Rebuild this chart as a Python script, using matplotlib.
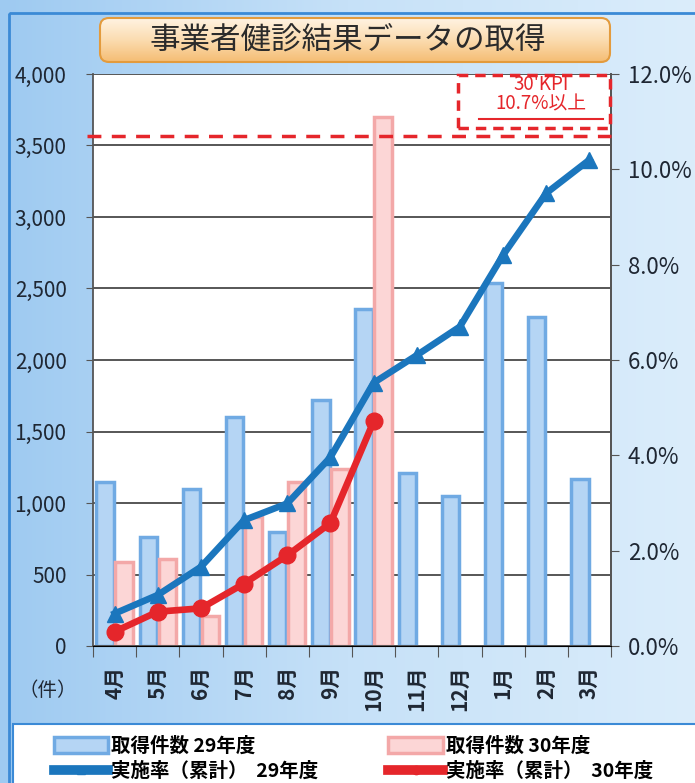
import numpy as np
import matplotlib.pyplot as plt
from matplotlib.patches import FancyBboxPatch, Rectangle, Patch
from matplotlib.lines import Line2D
from matplotlib.colors import LinearSegmentedColormap

plt.rcParams['font.family'] = ['Noto Sans CJK JP', 'DejaVu Sans']

months = ['4月', '5月', '6月', '7月', '8月', '9月', '10月', '11月', '12月', '1月', '2月', '3月']
count_h29 = [1150, 760, 1100, 1600, 800, 1720, 2360, 1210, 1050, 2540, 2300, 1170]
count_h30 = [590, 610, 210, 900, 1150, 1240, 3700]
rate_h29 = [0.68, 1.07, 1.66, 2.64, 2.99, 3.96, 5.52, 6.1, 6.7, 8.2, 9.5, 10.2]
rate_h30 = [0.30, 0.72, 0.79, 1.31, 1.90, 2.58, 4.71]
kpi = 10.7

BLUE_FACE, BLUE_EDGE = '#b5d5f4', '#70aae3'
PINK_FACE, PINK_EDGE = '#fcd6d6', '#f3a8a8'
BLUE_LINE, RED_LINE = '#1b76bd', '#e5262b'
TXT = '#1f2733'

W, H = 695, 783
fig = plt.figure(figsize=(W / 100, H / 100), dpi=100)

# background layer in pixel coordinates
bg = fig.add_axes([0, 0, 1, 1], zorder=-10)
bg.axis('off')
cmap_bg = LinearSegmentedColormap.from_list('bg', ['#9ecaf1', '#c6e1f8', '#dbedfb'])
bg.imshow(np.linspace(0, 1, 256).reshape(1, -1), extent=[0, W, H, 0], aspect='auto', cmap=cmap_bg)
bg.add_patch(Rectangle((9, 13), 720, 820, fill=False, ec='#3b8ad6', lw=2))

# title box
box = FancyBboxPatch((100, 18), 510, 44, boxstyle='round,pad=0,rounding_size=9',
                     fc='none', ec='#e39b3d', lw=1.5, zorder=3)
bg.add_patch(box)
cmap_title = LinearSegmentedColormap.from_list('tt', ['#fff3e2', '#fbdcb0', '#f5bd74'])
im = bg.imshow(np.linspace(0, 1, 64).reshape(-1, 1), extent=[100, 610, 62, 18],
               aspect='auto', cmap=cmap_title, zorder=2)
im.set_clip_path(box)
bg.text(348, 40, '事業者健診結果データの取得', fontsize=22, color='#2b2b2b',
        ha='center', va='center', zorder=4)

# legend panel
bg.add_patch(Rectangle((13, 724), 700, 80, fc='white', ec='#3b8ad6', lw=1.5))
bg.text(48, 690, '（件）', fontsize=14, color=TXT, ha='center', va='center')
bg.set_xlim(0, W)
bg.set_ylim(H, 0)

# main chart
ax = fig.add_axes([93 / W, 1 - 646 / H, 518 / W, 572 / H])
ax.set_facecolor('white')
x = np.arange(len(months))
w = 0.40
ax.bar(x - w / 2 - 0.02, count_h29, w, color=BLUE_FACE, edgecolor=BLUE_EDGE, lw=2.5)
ax.bar(x[:len(count_h30)] + w / 2 + 0.02, count_h30, w, color=PINK_FACE, edgecolor=PINK_EDGE, lw=2.5)

ax.set_xlim(-0.5, len(months) - 0.5)
ax.set_ylim(0, 4000)
yt = np.arange(0, 4001, 500)
ax.set_yticks(yt)
ax.set_yticklabels([f'{v:,}' for v in yt], fontsize=15, color=TXT)
ax.yaxis.grid(True, color='#3a3a3a', lw=1.2)
ax.set_axisbelow(True)
ax.tick_params(axis='y', length=5, pad=14, color='#555555')

ax.set_xticks(np.arange(-0.5, len(months), 1))
ax.set_xticklabels([])
ax.tick_params(axis='x', which='major', length=8, color='#555555')
ax.set_xticks(x, minor=True)
ax.set_xticklabels(months, minor=True, rotation=90, fontsize=15, fontweight='bold', color=TXT)
ax.tick_params(axis='x', which='minor', length=0, pad=14)
for s in ['left', 'right', 'bottom']:
    ax.spines[s].set_color('#555555')
    ax.spines[s].set_linewidth(1.3)
ax.spines['top'].set_visible(False)

# rate axis
ax2 = ax.twinx()
ax2.set_ylim(0, 12)
rt = np.arange(0, 12.1, 2)
ax2.set_yticks(rt)
ax2.set_yticklabels([f'{v:.1f}%' for v in rt], fontsize=16, color=TXT)
ax2.tick_params(axis='y', length=6, pad=6, color='#555555')
ax2.spines['right'].set_color('#555555')
ax2.spines['right'].set_linewidth(1.3)
ax2.spines['top'].set_visible(False)
ax2.spines['left'].set_visible(False)

ax2.plot(x, rate_h29, color=BLUE_LINE, lw=4.8, marker='^', ms=12, zorder=4)
ax2.plot(x[:len(rate_h30)], rate_h30, color=RED_LINE, lw=4.8, marker='o', ms=12, zorder=5)

# KPI target line and note
ax2.axhline(kpi, xmin=-0.012, xmax=1.0, color=RED_LINE, lw=2.5, ls=(0, (4, 3)), clip_on=False, zorder=6)
ax2.add_patch(Rectangle((0.705, 0.905), 0.293, 0.094, transform=ax2.transAxes, fill=False,
                        ec=RED_LINE, lw=2.5, ls=(0, (3, 2)), clip_on=False, zorder=6))
ax2.text(0.865, 0.981, "30'KPI", transform=ax2.transAxes, fontsize=13.5, color=RED_LINE,
         ha='center', va='center')
ax2.text(0.865, 0.947, f'{kpi}%以上', transform=ax2.transAxes, fontsize=13.5, color=RED_LINE,
         ha='center', va='center')
ax2.plot([0.745, 0.985], [0.921, 0.921], transform=ax2.transAxes, color=RED_LINE, lw=1.5)

handles = [
    Patch(facecolor=BLUE_FACE, edgecolor=BLUE_EDGE, lw=2.5),
    Line2D([], [], color=BLUE_LINE, lw=7, marker='^', ms=6),
    Patch(facecolor=PINK_FACE, edgecolor=PINK_EDGE, lw=2.5),
    Line2D([], [], color=RED_LINE, lw=7, marker='o', ms=6),
]
labels = ['取得件数 29年度', '実施率（累計）  29年度', '取得件数 30年度', '実施率（累計）  30年度']
fig.legend(handles, labels, ncol=2, loc='upper left', bbox_to_anchor=(44 / W, 1 - 727 / H),
           frameon=False, prop={'size': 14, 'weight': 'bold'}, handlelength=2.8, handleheight=0.9,
           columnspacing=3.6, labelspacing=0.3, handletextpad=0.15, borderpad=0)

fig.savefig('out.png', dpi=100)
